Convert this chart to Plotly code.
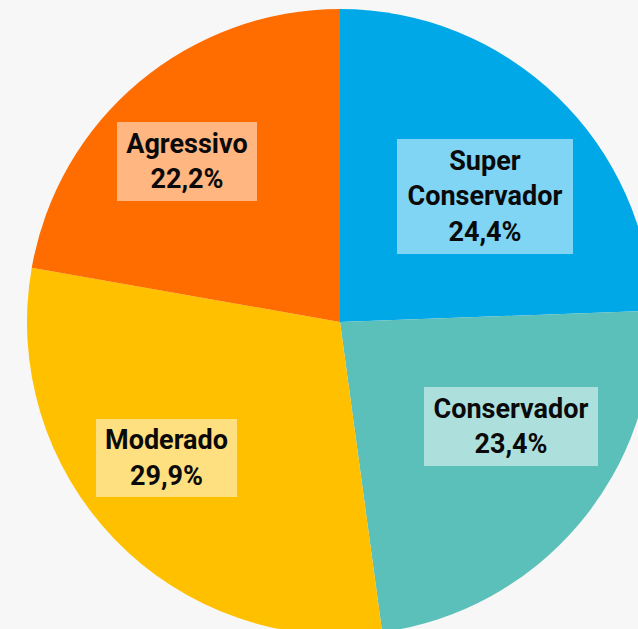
import plotly.graph_objects as go

categories = ["Super Conservador", "Conservador", "Moderado", "Agressivo"]
label_lines = ["Super<br>Conservador", "Conservador", "Moderado", "Agressivo"]
values = [24.4, 23.4, 29.9, 22.2]
colors = ["#00A8E8", "#5BC0B9", "#FFC000", "#FF6C00"]

# label box centers (pixels) and sizes
box_px = [(485, 196.5, 176, 115), (511, 426.5, 174, 79), (166.5, 458, 141, 78), (187, 161.5, 140, 79)]

W, H = 700, 700
L, T, D = 27, 9, 626

fig = go.Figure(go.Pie(
    labels=categories,
    values=values,
    sort=False,
    direction="clockwise",
    rotation=0,
    marker=dict(colors=colors, line=dict(width=0)),
    textinfo="none",
    hoverinfo="label+percent",
    showlegend=False,
))

annotations = []
for lab, v, (cx, cy, bw, bh) in zip(label_lines, values, box_px):
    txt = f"<b>{lab}<br>{v:.1f}%</b>".replace(".", ",")
    annotations.append(dict(
        text=txt,
        x=(cx - L) / D, y=1 - (cy - T) / D,
        xref="paper", yref="paper",
        xanchor="center", yanchor="middle",
        showarrow=False,
        font=dict(family="Roboto", size=27, color="#0A0A0A"),
        bgcolor="rgba(255,255,255,0.5)",
        borderpad=0, borderwidth=0,
        width=bw, height=bh,
        align="center",
    ))

fig.update_layout(
    width=W, height=H,
    margin=dict(l=L, t=T, r=W - L - D, b=H - T - D, pad=0),
    paper_bgcolor="#F7F7F7",
    plot_bgcolor="#F7F7F7",
    annotations=annotations,
)

fig.write_html(
    "out.html",
    config={"displayModeBar": False},
    post_script="document.documentElement.style.overflow='hidden';document.body.style.overflow='hidden';document.body.style.margin='0';document.body.style.background='#F7F7F7';",
)
